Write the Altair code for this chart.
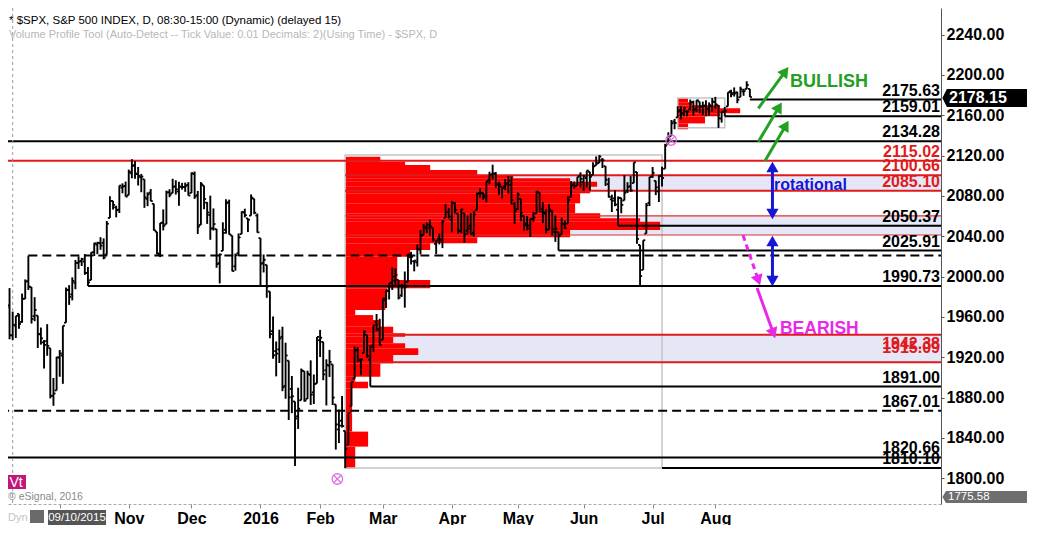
import altair as alt
import pandas as pd

# ---------------- daily S&P 500 bars (trading-day index = position) ----------------
trade_dates = [
 "2015-09-03","2015-09-04","2015-09-08","2015-09-09","2015-09-10","2015-09-11","2015-09-14","2015-09-15","2015-09-16","2015-09-17",
 "2015-09-18","2015-09-21","2015-09-22","2015-09-23","2015-09-24","2015-09-25","2015-09-28","2015-09-29","2015-09-30",
 "2015-10-01","2015-10-02","2015-10-05","2015-10-06","2015-10-07","2015-10-08","2015-10-09","2015-10-12","2015-10-13","2015-10-14",
 "2015-10-15","2015-10-16","2015-10-19","2015-10-20","2015-10-21","2015-10-22","2015-10-23","2015-10-26","2015-10-27","2015-10-28",
 "2015-10-29","2015-10-30",
 "2015-11-02","2015-11-03","2015-11-04","2015-11-05","2015-11-06","2015-11-09","2015-11-10","2015-11-11","2015-11-12","2015-11-13",
 "2015-11-16","2015-11-17","2015-11-18","2015-11-19","2015-11-20","2015-11-23","2015-11-24","2015-11-25","2015-11-27","2015-11-30",
 "2015-12-01","2015-12-02","2015-12-03","2015-12-04","2015-12-07","2015-12-08","2015-12-09","2015-12-10","2015-12-11","2015-12-14",
 "2015-12-15","2015-12-16","2015-12-17","2015-12-18","2015-12-21","2015-12-22","2015-12-23","2015-12-24","2015-12-28","2015-12-29",
 "2015-12-30","2015-12-31",
 "2016-01-04","2016-01-05","2016-01-06","2016-01-07","2016-01-08","2016-01-11","2016-01-12","2016-01-13","2016-01-14","2016-01-15",
 "2016-01-19","2016-01-20","2016-01-21","2016-01-22","2016-01-25","2016-01-26","2016-01-27","2016-01-28","2016-01-29",
 "2016-02-01","2016-02-02","2016-02-03","2016-02-04","2016-02-05","2016-02-08","2016-02-09","2016-02-10","2016-02-11","2016-02-12",
 "2016-02-16","2016-02-17","2016-02-18","2016-02-19","2016-02-22","2016-02-23","2016-02-24","2016-02-25","2016-02-26","2016-02-29",
 "2016-03-01","2016-03-02","2016-03-03","2016-03-04","2016-03-07","2016-03-08","2016-03-09","2016-03-10","2016-03-11","2016-03-14",
 "2016-03-15","2016-03-16","2016-03-17","2016-03-18","2016-03-21","2016-03-22","2016-03-23","2016-03-24","2016-03-28","2016-03-29",
 "2016-03-30","2016-03-31",
 "2016-04-01","2016-04-04","2016-04-05","2016-04-06","2016-04-07","2016-04-08","2016-04-11","2016-04-12","2016-04-13","2016-04-14",
 "2016-04-15","2016-04-18","2016-04-19","2016-04-20","2016-04-21","2016-04-22","2016-04-25","2016-04-26","2016-04-27","2016-04-28",
 "2016-04-29",
 "2016-05-02","2016-05-03","2016-05-04","2016-05-05","2016-05-06","2016-05-09","2016-05-10","2016-05-11","2016-05-12","2016-05-13",
 "2016-05-16","2016-05-17","2016-05-18","2016-05-19","2016-05-20","2016-05-23","2016-05-24","2016-05-25","2016-05-26","2016-05-27",
 "2016-05-31",
 "2016-06-01","2016-06-02","2016-06-03","2016-06-06","2016-06-07","2016-06-08","2016-06-09","2016-06-10","2016-06-13","2016-06-14",
 "2016-06-15","2016-06-16","2016-06-17","2016-06-20","2016-06-21","2016-06-22","2016-06-23","2016-06-24","2016-06-27","2016-06-28",
 "2016-06-29","2016-06-30",
 "2016-07-01","2016-07-05","2016-07-06","2016-07-07","2016-07-08","2016-07-11","2016-07-12","2016-07-13","2016-07-14","2016-07-15",
 "2016-07-18","2016-07-19","2016-07-20","2016-07-21","2016-07-22","2016-07-25","2016-07-26","2016-07-27","2016-07-28","2016-07-29",
 "2016-08-01","2016-08-02","2016-08-03","2016-08-04","2016-08-05","2016-08-08","2016-08-09","2016-08-10","2016-08-11","2016-08-12",
 "2016-08-15","2016-08-16",
]

opens = [
 1950.79,1947.76,1927.30,1971.45,1941.59,1951.45,1963.06,1955.10,1978.02,1995.33,1989.66,1960.84,1961.39,1943.24,1934.81,1935.93,1929.18,1881.90,1887.14,
 1919.65,1921.77,1954.33,1986.63,1982.34,1994.01,2013.73,2015.65,2015.00,2003.66,1996.47,2024.37,2031.73,2033.13,2033.47,2021.88,2058.19,2075.08,2068.75,2066.48,2088.35,2090.00,
 2080.76,2102.63,2110.60,2101.68,2098.60,2096.56,2077.19,2083.41,2072.29,2044.64,2022.08,2053.67,2051.99,2083.70,2082.82,2089.41,2084.42,2089.30,2088.82,2090.95,
 2082.93,2101.71,2080.71,2051.24,2090.42,2073.39,2061.17,2047.93,2047.27,2013.37,2025.55,2046.50,2073.76,2040.81,2010.27,2023.15,2042.20,2063.52,2057.77,2060.54,2077.34,2060.59,
 2038.20,2013.78,2011.71,1985.32,1945.97,1926.12,1927.83,1940.34,1891.68,1916.68,1888.66,1876.18,1861.46,1877.40,1906.28,1878.79,1902.52,1885.22,1894.00,
 1936.94,1935.26,1907.07,1911.67,1913.07,1873.25,1848.46,1857.10,1847.00,1833.40,1871.44,1898.80,1927.57,1916.74,1924.44,1942.38,1917.56,1931.87,1954.95,1947.13,
 1937.09,1976.60,1985.60,1994.01,1996.11,1996.88,1981.44,1990.97,1994.71,2019.27,2015.27,2014.24,2026.90,2041.16,2047.88,2048.64,2048.55,2032.48,2037.89,2035.75,2058.27,2063.77,
 2056.62,2073.19,2062.50,2045.56,2063.01,2045.54,2050.23,2043.72,2065.92,2082.89,2083.10,2078.83,2096.05,2101.52,2102.09,2091.49,2089.37,2089.84,2092.57,2090.93,2071.82,
 2067.17,2077.18,2060.30,2052.95,2047.77,2057.55,2062.63,2083.29,2067.17,2062.50,2046.53,2065.04,2044.38,2044.21,2041.88,2052.23,2052.65,2078.93,2091.44,2090.06,2100.13,
 2093.94,2097.71,2104.07,2100.83,2110.18,2112.71,2115.65,2109.57,2091.75,2076.65,2077.60,2066.36,2078.20,2075.58,2085.19,2089.75,2092.80,2103.81,2031.45,2006.67,2042.69,2073.17,
 2099.34,2095.05,2084.43,2100.42,2106.97,2131.72,2139.50,2153.81,2157.88,2165.13,2162.04,2163.79,2166.10,2172.91,2166.47,2173.71,2168.97,2169.81,2166.05,2168.83,
 2173.15,2169.94,2156.81,2163.51,2168.79,2183.76,2182.24,2182.81,2177.97,2183.74,2186.08,2186.24,
]

highs = [
 1975.01,1947.76,1970.42,1988.63,1965.29,1961.05,1963.06,1983.19,1997.26,2020.86,1989.66,1979.64,1961.39,1949.52,1937.17,1952.89,1929.18,1899.48,1920.53,
 1927.21,1951.36,1989.17,1991.62,1999.31,2016.50,2020.13,2018.66,2022.34,2009.56,2024.15,2033.54,2034.45,2039.12,2037.97,2055.20,2079.74,2075.14,2070.37,2090.35,2092.52,2094.32,
 2106.20,2116.48,2114.59,2108.78,2101.91,2096.56,2083.67,2086.94,2072.29,2044.64,2053.22,2066.69,2085.31,2086.74,2097.06,2095.61,2094.12,2093.00,2093.29,2093.81,
 2103.37,2104.27,2085.00,2093.84,2090.42,2073.85,2080.33,2067.65,2047.27,2022.92,2053.87,2076.72,2076.37,2040.81,2022.90,2042.74,2064.73,2067.36,2057.77,2081.56,2077.34,2062.54,
 2038.20,2021.94,2011.71,1985.32,1960.40,1935.65,1947.38,1950.33,1934.47,1916.68,1901.44,1876.18,1889.85,1908.85,1906.28,1906.73,1916.99,1902.96,1940.24,
 1947.20,1935.26,1918.01,1927.35,1913.07,1873.25,1868.25,1881.60,1847.00,1864.78,1895.77,1930.68,1930.00,1918.78,1946.70,1942.38,1932.08,1951.83,1962.96,1958.27,
 1978.35,1986.51,1993.69,2009.13,2008.16,1996.88,1992.69,2005.08,2022.37,2024.57,2015.94,2032.02,2046.24,2052.36,2053.91,2056.60,2048.55,2036.04,2042.67,2055.91,2072.21,2067.92,
 2075.07,2074.02,2062.50,2067.33,2063.01,2060.63,2062.93,2065.05,2083.18,2087.84,2083.22,2094.66,2104.05,2111.05,2103.78,2094.32,2089.37,2096.87,2099.89,2099.30,2073.85,
 2083.42,2077.18,2060.30,2060.23,2057.72,2064.15,2084.87,2083.29,2073.99,2066.79,2071.88,2065.69,2060.61,2044.21,2058.35,2055.58,2079.67,2094.73,2094.30,2099.06,2103.48,
 2100.97,2105.26,2104.07,2113.36,2119.22,2120.55,2117.64,2109.57,2098.12,2081.30,2085.65,2079.62,2078.20,2100.66,2093.66,2099.71,2113.32,2103.81,2031.45,2036.09,2073.13,2098.94,
 2108.71,2095.05,2100.72,2109.08,2131.71,2143.16,2155.40,2156.45,2168.99,2169.05,2168.35,2164.63,2175.63,2174.56,2175.11,2173.71,2173.54,2174.98,2172.85,2177.09,
 2178.29,2170.20,2163.79,2168.19,2182.87,2185.44,2187.66,2183.41,2188.45,2186.28,2193.81,2186.24,
]

lows = [
 1944.72,1911.21,1927.30,1937.88,1937.19,1939.19,1948.27,1954.30,1977.93,1986.73,1953.45,1955.80,1929.22,1932.57,1908.92,1921.50,1879.21,1871.91,1887.14,
 1900.70,1893.70,1954.33,1971.99,1976.44,1987.53,2007.61,2010.55,2001.78,1990.73,1996.47,2020.46,2022.31,2026.61,2017.22,2021.88,2058.19,2066.53,2058.84,2063.11,2082.63,2079.34,
 2080.76,2097.51,2096.98,2090.41,2083.74,2068.24,2069.91,2074.85,2045.66,2022.02,2019.39,2045.90,2051.99,2078.76,2082.82,2081.39,2070.29,2086.30,2084.13,2080.41,
 2082.93,2077.11,2042.35,2051.24,2066.78,2052.32,2036.53,2045.67,2008.80,1993.26,2025.55,2042.43,2041.66,2005.33,2005.93,2020.49,2042.20,2058.73,2044.20,2060.54,2061.97,2043.62,
 1989.68,2004.17,1979.05,1938.83,1918.46,1901.10,1914.35,1886.41,1878.93,1857.83,1864.60,1812.29,1848.98,1877.40,1875.97,1878.79,1872.70,1873.65,1894.00,
 1920.30,1897.29,1872.23,1900.52,1872.65,1828.46,1834.94,1850.32,1810.10,1833.40,1871.44,1898.80,1915.09,1902.17,1924.44,1919.44,1891.00,1925.41,1945.78,1931.81,
 1937.09,1968.80,1977.37,1986.77,1991.58,1977.43,1979.84,1969.25,1994.71,2012.05,2005.23,2010.04,2022.16,2041.16,2043.14,2040.57,2034.86,2022.49,2031.96,2028.31,2058.27,2057.46,
 2043.98,2062.57,2042.56,2043.09,2033.80,2041.69,2041.88,2039.74,2065.92,2078.13,2076.31,2073.65,2091.68,2096.32,2088.52,2081.20,2077.52,2085.80,2082.31,2071.62,2052.28,
 2066.11,2054.89,2045.55,2045.77,2039.45,2054.31,2062.63,2064.46,2053.13,2043.13,2046.53,2040.82,2034.49,2025.91,2041.88,2047.26,2052.65,2078.93,2087.08,2090.06,2088.66,
 2085.10,2088.59,2085.36,2100.83,2110.18,2112.71,2107.73,2089.96,2078.46,2064.10,2069.80,2050.37,2062.84,2075.58,2083.02,2084.36,2092.80,2032.57,1991.68,2006.67,2042.69,2070.00,
 2097.90,2080.86,2074.02,2089.39,2106.97,2131.72,2139.50,2146.21,2157.88,2155.79,2159.07,2159.01,2164.89,2159.75,2163.24,2161.95,2160.18,2159.07,2159.74,2163.49,
 2166.21,2147.58,2152.78,2159.07,2168.79,2177.85,2178.61,2172.00,2177.97,2179.42,2186.08,2178.14,
]

closes = [
 1951.13,1921.22,1969.41,1942.04,1952.29,1961.05,1953.03,1978.09,1995.31,1990.20,1958.03,1966.97,1942.74,1938.76,1932.24,1931.34,1881.77,1884.09,1920.03,
 1923.82,1951.36,1987.05,1979.92,1995.83,2013.43,2014.89,2017.46,2003.69,1994.24,2023.86,2033.11,2033.66,2030.77,2018.94,2052.51,2075.15,2071.18,2065.89,2090.35,2089.41,2079.36,
 2104.05,2109.79,2102.31,2099.93,2099.20,2078.58,2081.72,2075.00,2045.97,2023.04,2053.19,2050.44,2083.58,2081.24,2089.17,2086.59,2089.14,2088.87,2090.11,2080.41,
 2102.63,2079.51,2049.62,2091.69,2077.07,2063.59,2047.62,2052.23,2012.37,2021.94,2043.41,2073.07,2041.89,2005.55,2021.15,2038.97,2064.29,2060.99,2056.50,2078.36,2063.36,2043.94,
 2012.66,2016.71,1990.26,1943.09,1922.03,1923.67,1938.68,1890.28,1921.84,1880.33,1881.33,1859.33,1868.99,1906.90,1877.08,1903.63,1882.95,1893.36,1940.24,
 1939.38,1903.03,1912.53,1915.45,1880.05,1853.44,1852.21,1851.86,1829.08,1864.78,1895.58,1926.82,1917.83,1917.78,1945.50,1921.27,1929.80,1951.70,1948.05,1932.23,
 1978.35,1986.45,1993.40,1999.99,2001.76,1979.26,1989.26,1989.57,2022.19,2019.64,2015.93,2027.22,2040.59,2049.58,2051.60,2049.80,2036.71,2035.94,2037.05,2055.01,2063.95,2059.74,
 2072.78,2066.13,2045.17,2066.66,2041.91,2047.60,2041.99,2061.72,2082.42,2082.78,2080.73,2094.34,2100.80,2102.40,2091.48,2091.58,2087.79,2091.70,2095.15,2075.81,2065.30,
 2081.43,2063.37,2051.12,2050.63,2057.14,2058.69,2084.39,2064.46,2064.11,2046.61,2066.66,2047.21,2047.63,2040.04,2052.32,2048.04,2076.06,2090.54,2090.10,2099.06,2096.95,
 2099.33,2105.26,2099.13,2109.41,2112.13,2119.12,2115.48,2096.07,2079.06,2075.32,2071.50,2077.99,2071.22,2083.25,2088.90,2085.45,2113.32,2037.41,2000.54,2036.09,2070.77,2098.86,
 2102.95,2088.55,2099.73,2097.90,2129.90,2137.16,2152.14,2152.43,2163.75,2161.74,2166.89,2163.78,2173.02,2165.17,2175.03,2168.48,2169.18,2166.58,2170.06,2173.60,
 2170.84,2157.03,2163.79,2164.25,2182.87,2180.89,2181.74,2175.49,2185.79,2184.05,2190.15,2178.15,
]

# ---------------- volume profiles (price band, length in bar units) ----------------
profile_start = 110          # bar index of the 2016-02-11 low
profile_lo = [1809.9,1831.4,1846.3,1864.5,1889.3,1895.8,1900.8,1914.1,1922.3,1928.9,1933.9,1940.5,1943.8,1950.4,1957.0,
              1961.9,1966.9,1976.9,1988.5,1996.7,2019.8,2026.4,2033.1,2039.0,2046.3,2054.5,2057.9,2062.9,2072.8,2082.7,
              2089.2,2094.2,2097.5,2100.8,2105.8,2110.7,2114.0]
profile_hi = [1831.4,1846.3,1864.5,1889.3,1895.8,1900.8,1914.1,1922.3,1928.9,1933.9,1940.5,1943.8,1950.4,1957.0,1961.9,
              1966.9,1976.9,1988.5,1996.7,2019.8,2026.4,2033.1,2039.0,2046.3,2054.5,2057.9,2062.9,2072.8,2082.7,2089.2,
              2094.2,2097.5,2100.8,2105.8,2110.7,2114.0,2119.0]
profile_len = [3.2,7.3,2.2,2.2,7.3,3.2,11.2,15.3,23.3,19.1,15.3,19.1,15.3,11.2,8.9,
               3.2,12.8,13.4,27.1,16.6,20.7,27.1,42.1,71.7,100.4,94.0,81.3,73.3,74.9,78.1,
               80.3,71.7,53.6,42.1,27.1,19.1,11.2]

july_start = 216
july_lo = [2146.2, 2152.0, 2159.0, 2162.0, 2167.0, 2170.0, 2173.0]
july_hi = [2152.0, 2159.0, 2162.0, 2167.0, 2170.0, 2173.0, 2176.9]
july_len = [3.3, 8.7, 13.5, 19.9, 13.5, 4.6, 3.3]

# profile range boxes
box_x1 = [110, 216]
box_x2 = [211, 231]
box_lo = [1810.10, 2147.58]
box_hi = [2120.55, 2177.09]

# shaded zones
band_lo = [2085.10, 2041.3, 1915.09]
band_hi = [2100.66, 2060.2, 1942.38]
band_start = [110, 110, 114]

# horizontal levels
lvl_value = [2175.63, 2159.01, 2134.28, 2115.02, 2100.66, 2085.10, 2060.2, 2050.37, 2041.3, 2025.91, 2020.86,
             1990.73, 1942.38, 1915.09, 1891.00, 1867.01, 1820.66, 1810.10]
lvl_start = [239, 231, 0, 0, 110, 110, 110, 197, 110, 178, 9, 28, 117, 114, 118, 0, 0, 211]
lvl_kind = ["k", "k", "k", "r", "r", "r", "rt", "k", "rt", "k", "kd", "k", "r", "r", "k", "kd", "k", "k"]
lvl_label = ["2175.63", "2159.01", "2134.28", "2115.02", "2100.66", "2085.10", "", "2050.37", "", "2025.91", "",
             "1990.73", "1942.38", "1915.09", "1891.00", "1867.01", "1820.66", "1810.10"]
lvl_labpos = ["a", "a", "a", "a", "a", "a", "", "a", "", "a", "", "a", "b", "c", "a", "a", "a", "a"]

# annotation arrows (bar index, price)
arr_x1 = [241.7, 241.7, 243.8, 246.2, 246.2, 236.8, 241.3]
arr_v1 = [2167.0, 2133.8, 2114.7, 2062.1, 1995.7, 2041.3, 1988.8]
arr_x2 = [250.3, 248.3, 250.5, 246.2, 246.2, 241.7, 246.5]
arr_v2 = [2203.7, 2168.3, 2150.1, 2108.8, 2035.4, 1996.4, 1943.8]
arr_col = ["green", "green", "green", "blue", "blue", "mag", "mag"]
arr_dash = [0, 0, 0, 0, 0, 1, 0]

head_x = [250.3, 248.3, 250.5, 246.2, 246.2, 246.2, 246.2, 241.7, 246.5]
head_v = [2203.7, 2168.3, 2150.1, 2108.8, 2062.1, 2035.4, 1995.7, 1996.4, 1943.8]
head_ang = [36, 31, 30, 0, 180, 0, 180, 161, 159]
head_col = ["green", "green", "green", "blue", "blue", "blue", "blue", "mag", "mag"]

note_text = ["BULLISH", "rotational", "BEARISH"]
note_x = [251.8, 246.7, 248.6]
note_v = [2188.1, 2085.5, 1943.1]
note_col = ["green", "blue", "mag"]
note_size = [18, 16, 17.5]

marker_x = [107.5, 213.9]
marker_v = [1799.3, 2135.5]

last_price = 2178.15
low_marker = 1775.58
cursor_idx = 4                # 09/10/2015

COLORS = {"k": "#000000", "kd": "#000000", "r": "#e01a1a", "rt": "#e03030",
          "green": "#22a022", "blue": "#1616d6", "mag": "#e82ae8"}
FONT = "Liberation Sans"

# ---------------- scales / axes ----------------
XS = alt.Scale(domain=[2.51, 299.93], nice=False, zero=False)
YS = alt.Scale(domain=[1774.5, 2266.45], nice=False, zero=False)

MONTH = ["", "Jan", "Feb", "Mar", "Apr", "May", "Jun", "Jul", "Aug", "Sep", "Oct", "Nov", "Dec"]
tick_idx, tick_lab = [], []
for k in range(1, len(trade_dates)):
    if trade_dates[k][5:7] != trade_dates[k - 1][5:7]:
        m = int(trade_dates[k][5:7])
        tick_idx.append(k)
        tick_lab.append(trade_dates[k][:4] if m == 1 else ("" if m == 10 else MONTH[m]))
label_expr = "".join(f"datum.value == {i} ? '{t}' : " for i, t in zip(tick_idx, tick_lab)) + "''"

XAXIS = alt.Axis(values=tick_idx, labelExpr=label_expr, title=None, grid=False, orient="bottom",
                 tickSize=4, tickColor="#888888", domain=True, domainColor="#aaaaaa", domainDash=[3, 2],
                 labelFont=FONT, labelFontSize=16, labelFontWeight="bold", labelColor="black",
                 labelPadding=2, labelAngle=0, labelOverlap=False, labelFlush=False)
YAXIS = alt.Axis(values=list(range(1800, 2241, 40)), format=".2f", title=None, grid=False, orient="right",
                 tickSize=3, tickColor="#555555", domainColor="#555555",
                 labelFont=FONT, labelFontSize=16, labelFontWeight="bold", labelColor="black",
                 labelPadding=2, labelOverlap=False, labelFlush=False)


def X(f, axis=XAXIS):
    return alt.X(f, type="quantitative", scale=XS, axis=axis)


def Y(f, axis=YAXIS):
    return alt.Y(f, type="quantitative", scale=YS, axis=axis)


# ---------------- data frames ----------------
bars = pd.DataFrame({"i": list(range(len(trade_dates))), "o": opens, "h": highs, "l": lows, "c": closes})
prof = pd.DataFrame({"lo": profile_lo + july_lo, "hi": profile_hi + july_hi,
                     "s": [profile_start] * len(profile_lo) + [july_start] * len(july_lo),
                     "n": profile_len + july_len})
boxes = pd.DataFrame({"x1": box_x1, "x2": box_x2, "lo": box_lo, "hi": box_hi})
bands = pd.DataFrame({"lo": band_lo, "hi": band_hi, "s": band_start, "e": [305] * len(band_lo)})
lv = pd.DataFrame({"v": lvl_value, "s": lvl_start, "e": [305] * len(lvl_value), "kind": lvl_kind,
                   "label": lvl_label, "pos": lvl_labpos})
lv["col"] = [COLORS[k] for k in lvl_kind]
arrows = pd.DataFrame({"x1": arr_x1, "v1": arr_v1, "x2": arr_x2, "v2": arr_v2,
                       "col": [COLORS[c] for c in arr_col], "dash": arr_dash})
heads = pd.DataFrame({"x": head_x, "v": head_v, "ang": head_ang, "col": [COLORS[c] for c in head_col]})
notes = pd.DataFrame({"t": note_text, "x": note_x, "v": note_v, "col": [COLORS[c] for c in note_col],
                      "fs": note_size})
markers = pd.DataFrame({"x": marker_x, "v": marker_v})
one = pd.DataFrame({"k": [0]})

# ---------------- layers ----------------
band_layer = alt.Chart(bands).mark_rect(color="#e5e7f7", clip=True).encode(
    x=X("s"), x2="e", y=Y("lo"), y2="hi")

prof_layer = alt.Chart(prof).transform_calculate(e="datum.s + datum.n").mark_rect(color="#ff0000").encode(
    x=X("s"), x2="e", y=Y("lo"), y2="hi")

box_layer = alt.Chart(boxes).mark_rect(fill=None, stroke="#c4c4c4", strokeWidth=1.5).encode(
    x=X("x1"), x2="x2", y=Y("lo"), y2="hi")

solid_lv = alt.Chart(lv).transform_filter("datum.kind == 'k' || datum.kind == 'r'").mark_rule(
    strokeWidth=2, clip=True).encode(x=X("s"), x2="e", y=Y("v"), color=alt.Color("col:N", scale=None))
thin_lv = alt.Chart(lv).transform_filter("datum.kind == 'rt'").mark_rule(
    strokeWidth=1.2, clip=True).encode(x=X("s"), x2="e", y=Y("v"), color=alt.Color("col:N", scale=None))
dash_lv = alt.Chart(lv).transform_filter("datum.kind == 'kd'").mark_rule(
    strokeWidth=2, strokeDash=[9, 5], clip=True, color="black").encode(x=X("s"), x2="e", y=Y("v"))

lab_common = dict(align="right", font=FONT, fontSize=16, fontWeight="bold")
lab_a = alt.Chart(lv).transform_filter("datum.pos == 'a'").mark_text(baseline="bottom", dy=-1, **lab_common).encode(
    x=alt.value(932), y=Y("v"), text="label:N", color=alt.Color("col:N", scale=None))
lab_b = alt.Chart(lv).transform_filter("datum.pos == 'b'").mark_text(baseline="top", dy=1, **lab_common).encode(
    x=alt.value(932), y=Y("v"), text="label:N", color=alt.Color("col:N", scale=None))
lab_c = alt.Chart(lv).transform_filter("datum.pos == 'c'").mark_text(baseline="bottom", dy=-6, **lab_common).encode(
    x=alt.value(932), y=Y("v"), text="label:N", color=alt.Color("col:N", scale=None))

cursor = alt.Chart(pd.DataFrame({"i": [cursor_idx]})).mark_rule(
    color="#9a9a9a", strokeDash=[3, 3], strokeWidth=1).encode(x=X("i"))

hl = alt.Chart(bars).mark_rule(color="black", strokeWidth=1.9, clip=True).encode(
    x=X("i"), y=Y("l"), y2="h")
otick = alt.Chart(bars).transform_calculate(a="datum.i - 0.65").mark_rule(
    color="black", strokeWidth=1.8, clip=True).encode(x=X("a"), x2="i", y=Y("o"))
ctick = alt.Chart(bars).transform_calculate(b="datum.i + 0.65").mark_rule(
    color="black", strokeWidth=1.8, clip=True).encode(x=X("i"), x2="b", y=Y("c"))

arr_solid = alt.Chart(arrows).transform_filter("datum.dash == 0").mark_rule(strokeWidth=3).encode(
    x=X("x1"), x2="x2", y=Y("v1"), y2="v2", color=alt.Color("col:N", scale=None))
arr_dashed = alt.Chart(arrows).transform_filter("datum.dash == 1").mark_rule(
    strokeWidth=3, strokeDash=[6, 4]).encode(
    x=X("x1"), x2="x2", y=Y("v1"), y2="v2", color=alt.Color("col:N", scale=None))
head_layer = alt.Chart(heads).mark_point(shape="triangle-up", filled=True, size=150, opacity=1).encode(
    x=X("x"), y=Y("v"), angle=alt.Angle("ang:Q", scale=None), color=alt.Color("col:N", scale=None))

note_layer = alt.Chart(notes).mark_text(align="left", baseline="alphabetic", font=FONT, fontWeight="bold").encode(
    x=X("x"), y=Y("v"), text="t:N", color=alt.Color("col:N", scale=None), size=alt.Size("fs:Q", scale=None))

mark_circ = alt.Chart(markers).mark_point(shape="circle", size=110, stroke="#e070e0", strokeWidth=1.3,
                                          filled=False, opacity=1).encode(x=X("x"), y=Y("v"))
mark_x = alt.Chart(markers).mark_point(shape="M-0.7,-0.7L0.7,0.7M-0.7,0.7L0.7,-0.7", size=110,
                                       stroke="#e070e0", strokeWidth=1.3, filled=False, opacity=1).encode(
    x=X("x"), y=Y("v"))

# right-axis price tags
tag_last = alt.Chart(pd.DataFrame({"v": [last_price]})).mark_point(
    shape="M-1,0L-0.9,-0.2L1,-0.2L1,0.2L-0.9,0.2Z", size=8100, filled=True, color="black",
    opacity=1, yOffset=1).encode(x=alt.value(979.4), y=Y("v"))
tag_last_t = alt.Chart(pd.DataFrame({"v": [last_price]})).mark_text(
    align="left", baseline="middle", dy=1, font=FONT, fontSize=16, fontWeight="bold", color="white").encode(
    x=alt.value(941), y=Y("v"), text=alt.Text("v:Q", format=".2f"))
tag_low = alt.Chart(pd.DataFrame({"v": [low_marker]})).mark_point(
    shape="M-1,0L-0.92,-0.133L1,-0.133L1,0.133L-0.92,0.133Z", size=8100, filled=True, color="#6e6e6e",
    opacity=1, yOffset=-6).encode(x=alt.value(979.4), y=Y("v"))
tag_low_t = alt.Chart(pd.DataFrame({"v": [low_marker]})).mark_text(
    align="left", baseline="middle", dy=-6, font=FONT, fontSize=11.5, color="white").encode(
    x=alt.value(940), y=Y("v"), text=alt.Text("v:Q", format=".2f"))

# chart chrome texts
hdr1 = alt.Chart(one).mark_text(align="left", baseline="alphabetic", font=FONT, fontSize=11.5, color="black",
                                text="* $SPX, S&P 500 INDEX, D, 08:30-15:00 (Dynamic) (delayed 15)").encode(
    x=alt.value(1), y=alt.value(16))
hdr2 = alt.Chart(one).mark_text(align="left", baseline="alphabetic", font=FONT, fontSize=11, color="#b8b8b8",
                                text="Volume Profile Tool (Auto-Detect -- Tick Value: 0.01 Decimals: 2)(Using Time) - $SPX, D").encode(
    x=alt.value(1), y=alt.value(30))
vt_box = alt.Chart(one).mark_rect(color="#c0187a").encode(
    x=alt.value(0), x2=alt.value(18), y=alt.value(467), y2=alt.value(481))
vt_txt = alt.Chart(one).mark_text(font=FONT, fontSize=14, color="white", text="Vt", align="center",
                                  baseline="middle").encode(x=alt.value(8), y=alt.value(474.5))
esig = alt.Chart(one).mark_text(font=FONT, fontSize=10.5, color="#8a8a8a", text="© eSignal, 2016",
                                align="left", baseline="alphabetic").encode(x=alt.value(0), y=alt.value(492))
dyn = alt.Chart(one).mark_text(font=FONT, fontSize=11, color="#c4c4c4", text="Dyn", align="left",
                               baseline="alphabetic").encode(x=alt.value(0), y=alt.value(513))
lock = alt.Chart(one).mark_rect(color="#6a6a6a").encode(
    x=alt.value(22), x2=alt.value(36), y=alt.value(502), y2=alt.value(515))
date_box = alt.Chart(one).mark_rect(color="#555555").encode(
    x=alt.value(40), x2=alt.value(98), y=alt.value(502), y2=alt.value(521))
date_txt = alt.Chart(one).mark_text(font=FONT, fontSize=11.5, color="white", text="09/10/2015",
                                    align="center", baseline="middle").encode(x=alt.value(69), y=alt.value(510))

chart = alt.layer(
    band_layer, prof_layer, box_layer, solid_lv, thin_lv, dash_lv, cursor,
    hl, otick, ctick,
    arr_solid, arr_dashed, head_layer, note_layer, mark_circ, mark_x,
    lab_a, lab_b, lab_c,
    tag_last, tag_last_t, tag_low, tag_low_t,
    hdr1, hdr2, vt_box, vt_txt, esig, dyn, lock, date_box, date_txt,
).properties(
    width=933, height=496,
    padding={"left": 0, "top": 0, "right": 86, "bottom": 21},
    autosize="none",
    background="white",
).configure_view(stroke=None)

chart.save("out.html", embed_options={"renderer": "svg", "actions": False})
